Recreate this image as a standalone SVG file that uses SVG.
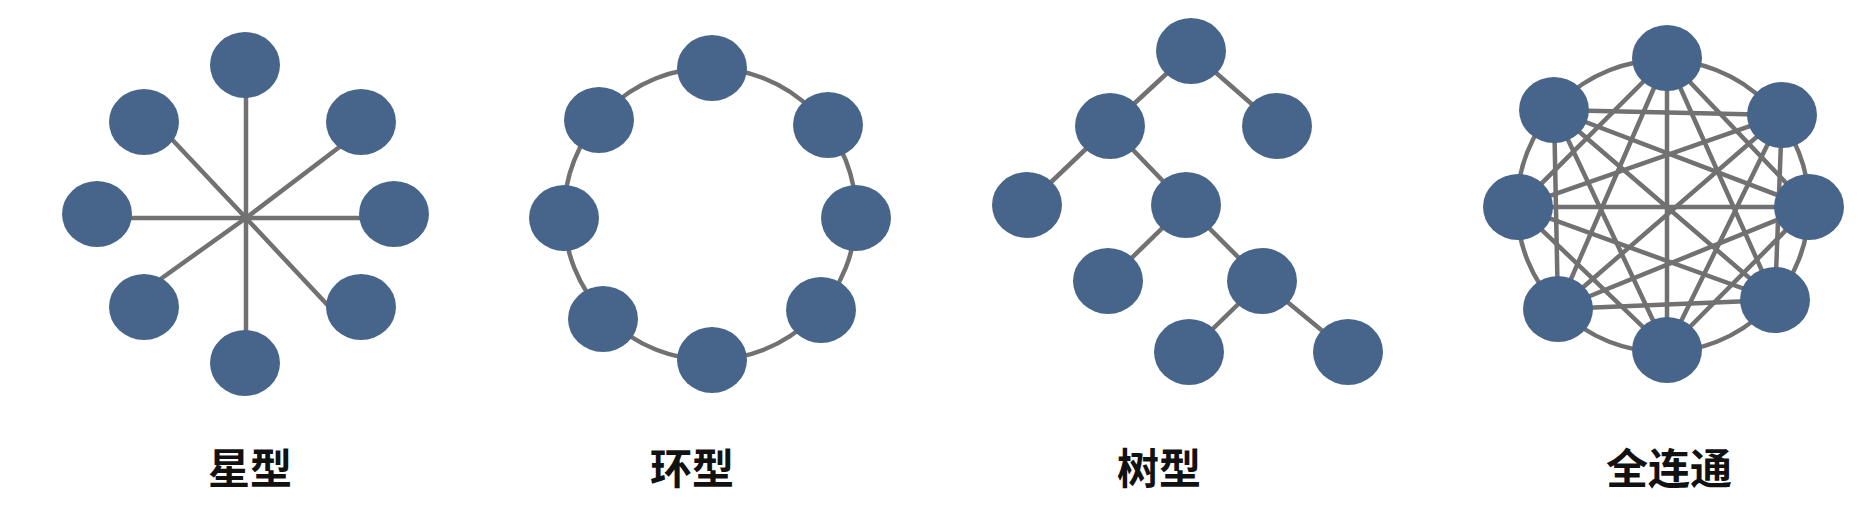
<svg xmlns="http://www.w3.org/2000/svg" width="1858" height="514" viewBox="0 0 1858 514">
<style>
.n{fill:#47658B}
.e{stroke:#717171;stroke-width:4.5;fill:none;stroke-linecap:round}
.t{font-family:"Noto Sans CJK SC","Noto Sans CJK JP",sans-serif;font-weight:bold;font-size:42px;fill:#111;text-anchor:middle}
</style>
<rect width="1858" height="514" fill="#fff"/>
<g id="connectors">
<line class="e" x1="246" y1="65" x2="246" y2="363"/>
<line class="e" x1="97" y1="218" x2="394" y2="218"/>
<line class="e" x1="246" y1="218" x2="165" y2="132"/>
<line class="e" x1="246" y1="218" x2="350" y2="139"/>
<line class="e" x1="246" y1="218" x2="155" y2="283"/>
<line class="e" x1="246" y1="218" x2="335" y2="313"/>
<circle class="e" cx="710" cy="214" r="146"/>
<line class="e" x1="1191" y1="51" x2="1110" y2="126"/>
<line class="e" x1="1191" y1="51" x2="1277" y2="126"/>
<line class="e" x1="1110" y1="126" x2="1027" y2="205"/>
<line class="e" x1="1110" y1="126" x2="1186" y2="205"/>
<line class="e" x1="1186" y1="205" x2="1108" y2="281"/>
<line class="e" x1="1186" y1="205" x2="1262" y2="281"/>
<line class="e" x1="1262" y1="281" x2="1189" y2="352"/>
<line class="e" x1="1262" y1="281" x2="1348" y2="352"/>
<circle class="e" cx="1663" cy="206" r="146"/>
<line class="e" x1="1667" y1="58" x2="1809" y2="207"/>
<line class="e" x1="1667" y1="58" x2="1775" y2="300"/>
<line class="e" x1="1667" y1="58" x2="1667" y2="350"/>
<line class="e" x1="1667" y1="58" x2="1558" y2="309"/>
<line class="e" x1="1667" y1="58" x2="1518" y2="207"/>
<line class="e" x1="1782" y1="115" x2="1775" y2="300"/>
<line class="e" x1="1782" y1="115" x2="1667" y2="350"/>
<line class="e" x1="1782" y1="115" x2="1558" y2="309"/>
<line class="e" x1="1782" y1="115" x2="1518" y2="207"/>
<line class="e" x1="1782" y1="115" x2="1554" y2="110"/>
<line class="e" x1="1809" y1="207" x2="1667" y2="350"/>
<line class="e" x1="1809" y1="207" x2="1558" y2="309"/>
<line class="e" x1="1809" y1="207" x2="1518" y2="207"/>
<line class="e" x1="1809" y1="207" x2="1554" y2="110"/>
<line class="e" x1="1775" y1="300" x2="1558" y2="309"/>
<line class="e" x1="1775" y1="300" x2="1518" y2="207"/>
<line class="e" x1="1775" y1="300" x2="1554" y2="110"/>
<line class="e" x1="1667" y1="350" x2="1518" y2="207"/>
<line class="e" x1="1667" y1="350" x2="1554" y2="110"/>
<line class="e" x1="1558" y1="309" x2="1554" y2="110"/>
</g>
<g id="star">
<ellipse id="s1" class="n" cx="245" cy="65" rx="35" ry="33"/>
<ellipse id="s2" class="n" cx="361" cy="122" rx="35" ry="33"/>
<ellipse id="s3" class="n" cx="394" cy="214" rx="35" ry="33"/>
<ellipse id="s4" class="n" cx="361" cy="307" rx="35" ry="33"/>
<ellipse id="s5" class="n" cx="245" cy="363" rx="35" ry="33"/>
<ellipse id="s6" class="n" cx="144" cy="307" rx="35" ry="33"/>
<ellipse id="s7" class="n" cx="97" cy="214" rx="35" ry="33"/>
<ellipse id="s8" class="n" cx="144" cy="122" rx="35" ry="33"/>
</g>
<g id="ring">
<ellipse id="r1" class="n" cx="712" cy="68" rx="35" ry="33"/>
<ellipse id="r2" class="n" cx="828" cy="125" rx="35" ry="33"/>
<ellipse id="r3" class="n" cx="856" cy="218" rx="35" ry="33"/>
<ellipse id="r4" class="n" cx="821" cy="310" rx="35" ry="33"/>
<ellipse id="r5" class="n" cx="712" cy="360" rx="35" ry="33"/>
<ellipse id="r6" class="n" cx="603" cy="319" rx="35" ry="33"/>
<ellipse id="r7" class="n" cx="564" cy="218" rx="35" ry="33"/>
<ellipse id="r8" class="n" cx="599" cy="120" rx="35" ry="33"/>
</g>
<g id="tree">
<ellipse id="t1" class="n" cx="1191" cy="51" rx="35" ry="33"/>
<ellipse id="t2" class="n" cx="1110" cy="126" rx="35" ry="33"/>
<ellipse id="t3" class="n" cx="1277" cy="126" rx="35" ry="33"/>
<ellipse id="t4" class="n" cx="1027" cy="205" rx="35" ry="33"/>
<ellipse id="t5" class="n" cx="1186" cy="205" rx="35" ry="33"/>
<ellipse id="t6" class="n" cx="1108" cy="281" rx="35" ry="33"/>
<ellipse id="t7" class="n" cx="1262" cy="281" rx="35" ry="33"/>
<ellipse id="t8" class="n" cx="1189" cy="352" rx="35" ry="33"/>
<ellipse id="t9" class="n" cx="1348" cy="352" rx="35" ry="33"/>
</g>
<g id="mesh">
<ellipse id="m1" class="n" cx="1667" cy="58" rx="35" ry="33"/>
<ellipse id="m2" class="n" cx="1782" cy="115" rx="35" ry="33"/>
<ellipse id="m3" class="n" cx="1809" cy="207" rx="35" ry="33"/>
<ellipse id="m4" class="n" cx="1775" cy="300" rx="35" ry="33"/>
<ellipse id="m5" class="n" cx="1667" cy="350" rx="35" ry="33"/>
<ellipse id="m6" class="n" cx="1558" cy="309" rx="35" ry="33"/>
<ellipse id="m7" class="n" cx="1518" cy="207" rx="35" ry="33"/>
<ellipse id="m8" class="n" cx="1554" cy="110" rx="35" ry="33"/>
</g>
<g id="labels">
<text class="t" x="250" y="484">星型</text>
<text class="t" x="692" y="484">环型</text>
<text class="t" x="1159" y="484">树型</text>
<text class="t" x="1669" y="484">全连通</text>
</g>
</svg>
